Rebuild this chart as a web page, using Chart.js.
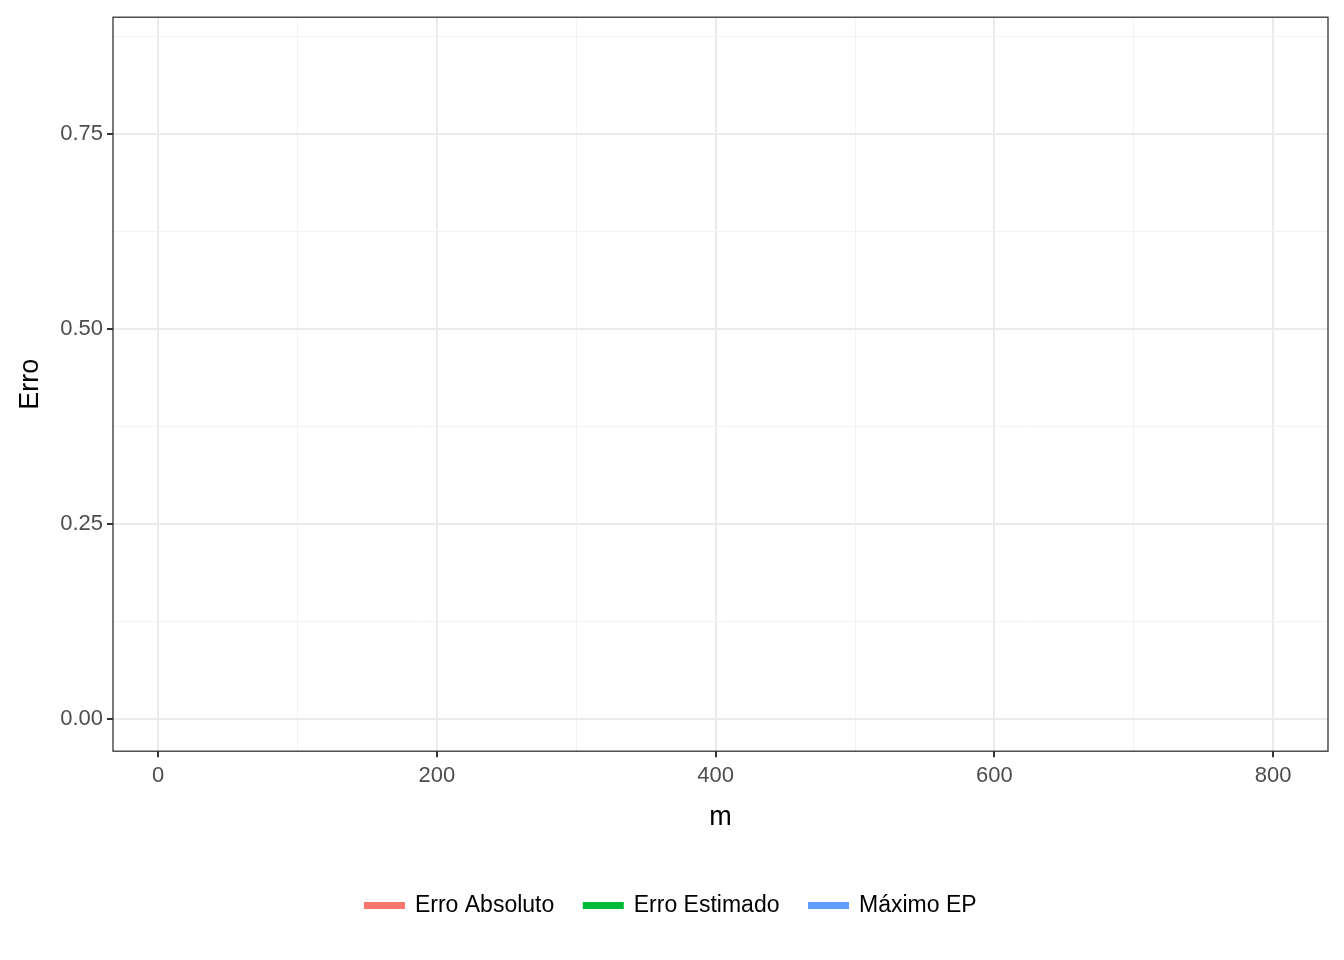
<!DOCTYPE html>
<html>
<head>
<meta charset="utf-8">
<script src="https://cdn.jsdelivr.net/npm/chart.js@4/dist/chart.umd.min.js"></script>
<style>
  html, body { margin: 0; padding: 0; background: #fff; }
  #wrap { width: 1344px; height: 960px; }
</style>
</head>
<body>
<div id="wrap"><canvas id="chart"></canvas></div>
<script>
// The reference plot has no visible data: empty series
const seriesNames = ["Erro Absoluto", "Erro Estimado", "Máximo EP"];
const seriesColors = ["#F8766D", "#00BA38", "#619CFF"];
const xTicks = [0, 100, 200, 300, 400, 500, 600, 700, 800];
const yTicks = [0, 0.125, 0.25, 0.375, 0.5, 0.625, 0.75, 0.875];

const datasets = seriesNames.map((name, i) => ({
    label: name,
    data: [],
    borderColor: seriesColors[i],
    backgroundColor: seriesColors[i],
    borderWidth: 3,
    pointRadius: 0,
}));

const frame = {
    id: "frame",
    afterDraw(chart) {
        const { ctx, chartArea: a } = chart;
        ctx.save();
        ctx.strokeStyle = "#333";
        ctx.lineWidth = 1.3;
        ctx.strokeRect(a.left, a.top, a.right - a.left, a.bottom - a.top);
        ctx.restore();
    },
};

new Chart(document.getElementById("chart"), {
    type: "line",
    data: { datasets },
    plugins: [frame],
    options: {
        responsive: true,
        maintainAspectRatio: false,
        animation: false,
        layout: { padding: { top: 14, right: 16, left: 14, bottom: 33 } },
        plugins: {
            legend: {
                position: "bottom",
                labels: {
                    boxWidth: 38,
                    boxHeight: 4,
                    padding: 30,
                    color: "#000",
                    font: { family: "Arial, Liberation Sans", size: 23 },
                },
            },
            tooltip: { enabled: false },
        },
        scales: {
            x: {
                type: "linear",
                min: -32.3,
                max: 839.3,
                afterBuildTicks: (s) => { s.ticks = xTicks.map((v) => ({ value: v })); },
                ticks: {
                    color: "#4d4d4d",
                    font: { family: "Arial, Liberation Sans", size: 22 },
                    callback: (v) => (v % 200 === 0 ? v : ""),
                    padding: 6,
                },
                grid: {
                    color: (c) => (c.tick && c.tick.value % 200 === 0 ? "#ebebeb" : "#f3f3f3"),
                    lineWidth: (c) => (c.tick && c.tick.value % 200 === 0 ? 2 : 1),
                    tickLength: 6,
                    tickColor: (c) => (c.tick && c.tick.value % 200 === 0 ? "#333" : "rgba(0,0,0,0)"),
                },
                border: { display: false },
                title: {
                    display: true,
                    text: "m",
                    color: "#000",
                    font: { family: "Arial, Liberation Sans", size: 27 },
                    padding: { top: 6, bottom: 30 },
                },
            },
            y: {
                type: "linear",
                min: -0.0415,
                max: 0.8997,
                afterBuildTicks: (s) => { s.ticks = yTicks.map((v) => ({ value: v })); },
                afterFit: (s) => { s.width = 99; },
                ticks: {
                    color: "#4d4d4d",
                    font: { family: "Arial, Liberation Sans", size: 22 },
                    callback: (v) => (Math.round(v * 1000) % 250 === 0 ? v.toFixed(2) : ""),
                    padding: 4,
                },
                grid: {
                    color: (c) => (c.tick && Math.round(c.tick.value * 1000) % 250 === 0 ? "#ebebeb" : "#f3f3f3"),
                    lineWidth: (c) => (c.tick && Math.round(c.tick.value * 1000) % 250 === 0 ? 2 : 1),
                    tickLength: 6,
                    tickColor: (c) => (c.tick && Math.round(c.tick.value * 1000) % 250 === 0 ? "#333" : "rgba(0,0,0,0)"),
                },
                border: { display: false },
                title: {
                    display: true,
                    text: "Erro",
                    color: "#000",
                    font: { family: "Arial, Liberation Sans", size: 27 },
                    padding: { top: 0, bottom: 10 },
                },
            },
        },
    },
});
</script>
</body>
</html>
